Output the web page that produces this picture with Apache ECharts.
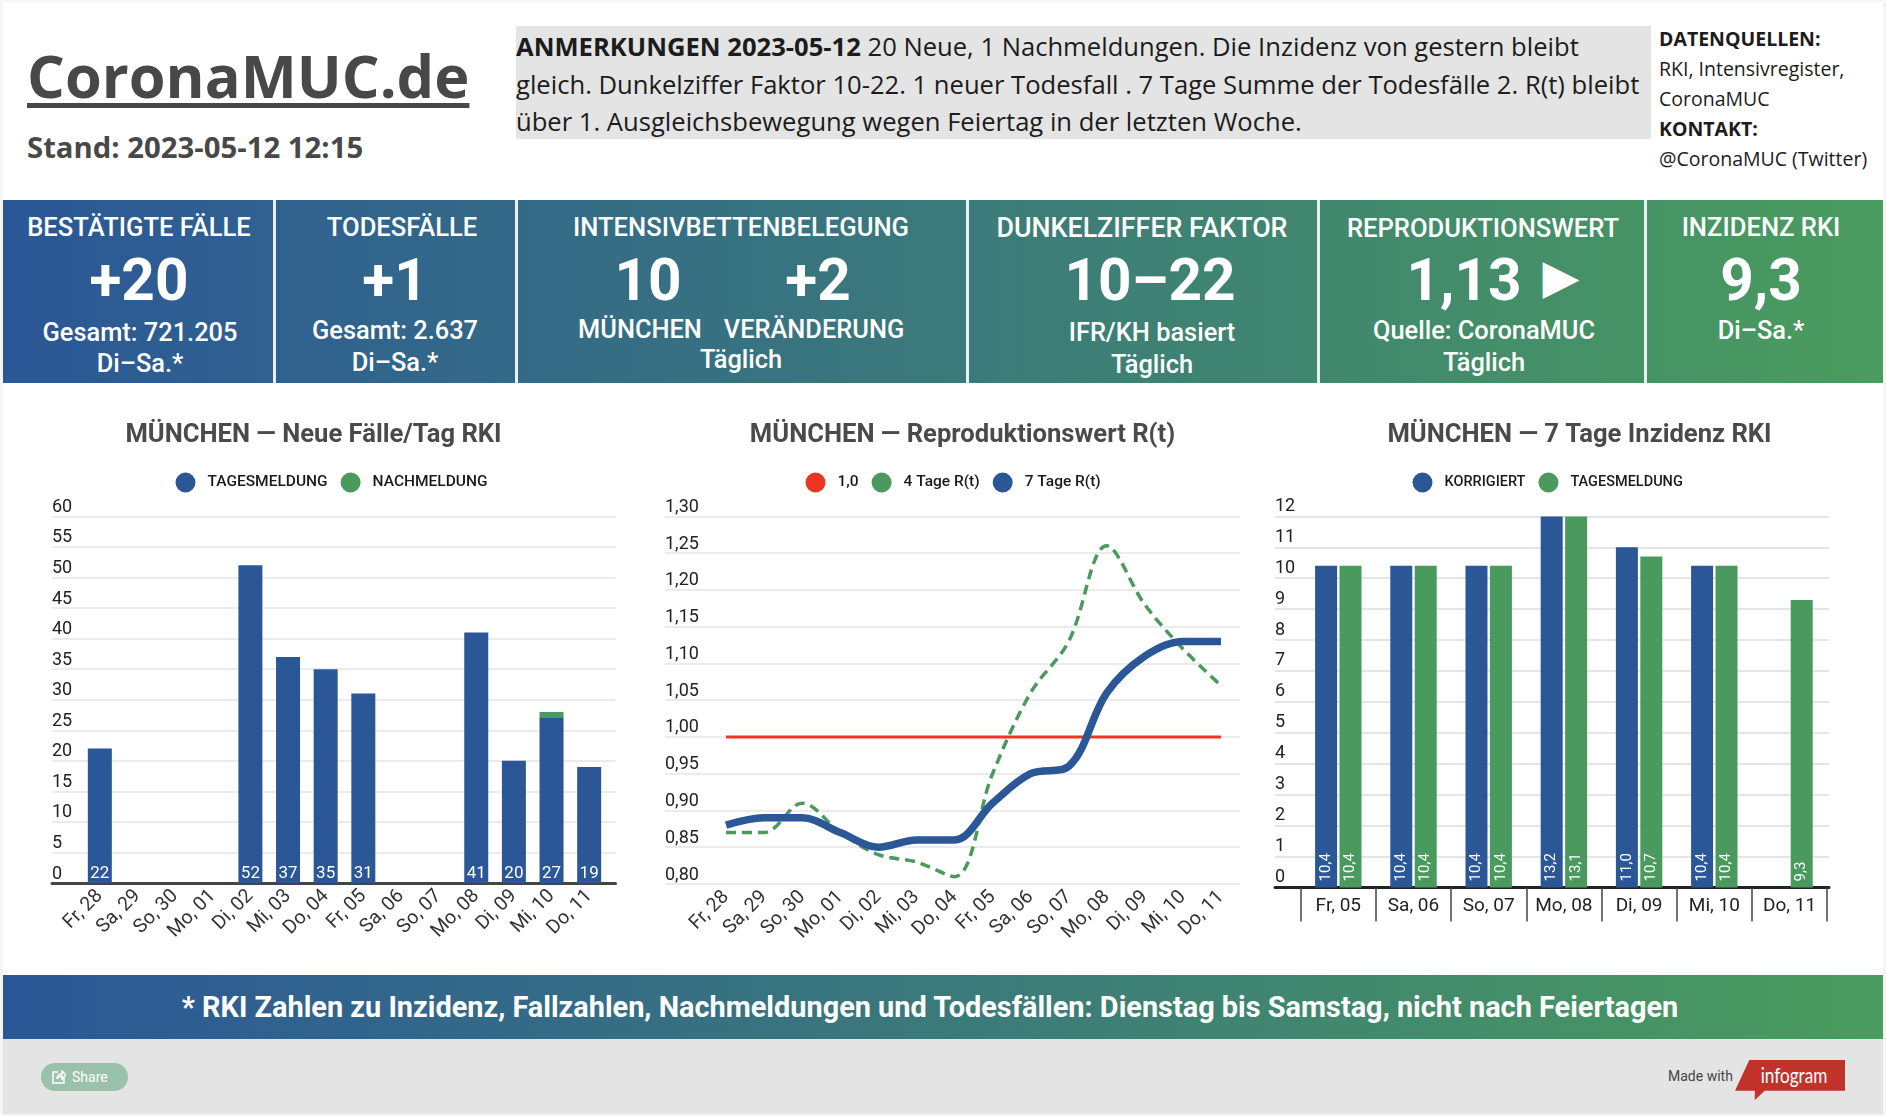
<!DOCTYPE html>
<html>
<head>
<meta charset="utf-8">
<script src="https://cdn.jsdelivr.net/npm/echarts@6/dist/echarts.min.js"></script>
<style>
  html, body { margin: 0; padding: 0; background: #f5f5f5; }
  #page { position: relative; width: 1886px; height: 1116px; overflow: hidden; font-family: Roboto, sans-serif; }
  #sheet { position: absolute; left: 3px; top: 2px; width: 1880px; height: 1112px; background: #fff; }
  .abs { position: absolute; white-space: nowrap; }
  .c { position: absolute; white-space: nowrap; color: #fff; transform: translate(-50%, -50%); }
  .head { font-size: 25.6px; font-weight: 500; }
  .big { font-size: 58.5px; font-weight: 700; }
  .sub { font-size: 25.4px; font-weight: 500; }
  #logo { left: 27px; top: 34px; font: 700 59.5px "Open Sans"; color: #484848; text-decoration: underline; text-decoration-thickness: 5px; text-underline-offset: 5px; }
  #stand { left: 27px; top: 127px; font: 700 29.3px "Open Sans"; color: #484848; }
  #notes { left: 516px; top: 26px; width: 1135px; height: 113px; background: #e4e4e4; font: 25.6px/37.7px "Open Sans"; color: #1c1c1c; padding-top: 2px; box-sizing: border-box; }
  #sources { left: 1659px; top: 24px; font: 19.5px/30px "Open Sans"; color: #1c1c1c; }
  #band { position: absolute; left: 3px; top: 200px; width: 1880px; height: 183px; background: linear-gradient(to right, #2b5797, #4a9c5e); }
  .sep { position: absolute; top: 200px; height: 183px; width: 3px; background: #e9eef0; }
  #banner { position: absolute; left: 3px; top: 975px; width: 1880px; height: 64px; background: linear-gradient(to right, #2b5797, #4a9c5e); }
  #foot { position: absolute; left: 3px; top: 1039px; width: 1880px; height: 75px; background: #e4e4e4; }
  #share { left: 41px; top: 1063px; width: 87px; height: 28px; border-radius: 14px; background: #9ac1a9; color: #fff; font-size: 14px; line-height: 28px; }
  #tag { left: 1735px; top: 1060px; width: 110px; height: 40px; background: #c1322a; clip-path: polygon(13% 0, 100% 0, 100% 77%, 27% 77%, 18% 100%, 18% 77%, 0 77%); }
  .chart { position: absolute; top: 400px; height: 560px; }
</style>
</head>
<body>
<div id="page">
  <div id="sheet"></div>
  <div class="abs" id="logo">CoronaMUC.de</div>
  <div class="abs" id="stand">Stand: 2023-05-12 12:15</div>
  <div class="abs" id="notes"><b>ANMERKUNGEN 2023-05-12</b> 20 Neue, 1 Nachmeldungen. Die Inzidenz von gestern bleibt<br>gleich. Dunkelziffer Faktor 10-22. 1 neuer Todesfall . 7 Tage Summe der Todesfälle 2. R(t) bleibt<br>über 1. Ausgleichsbewegung wegen Feiertag in der letzten Woche.</div>
  <div class="abs" id="sources"><b>DATENQUELLEN:</b><br>RKI, Intensivregister,<br>CoronaMUC<br><b>KONTAKT:</b><br>@CoronaMUC (Twitter)</div>

  <div id="band"></div>
  <div class="sep" style="left:273px"></div>
  <div class="sep" style="left:515px"></div>
  <div class="sep" style="left:966px"></div>
  <div class="sep" style="left:1317px"></div>
  <div class="sep" style="left:1644px"></div>

  <div class="c head" style="left:139px;top:227px">BESTÄTIGTE FÄLLE</div>
  <div class="c big" style="left:139px;top:280px">+20</div>
  <div class="c sub" style="left:140px;top:332px">Gesamt: 721.205</div>
  <div class="c sub" style="left:140px;top:363px">Di–Sa.*</div>

  <div class="c head" style="left:402px;top:227px">TODESFÄLLE</div>
  <div class="c big" style="left:395px;top:280px">+1</div>
  <div class="c sub" style="left:395px;top:330px">Gesamt: 2.637</div>
  <div class="c sub" style="left:395px;top:362px">Di–Sa.*</div>

  <div class="c head" style="left:741px;top:227px">INTENSIVBETTENBELEGUNG</div>
  <div class="c big" style="left:648px;top:280px">10</div>
  <div class="c big" style="left:818px;top:280px">+2</div>
  <div class="c sub" style="left:640px;top:329px">MÜNCHEN</div>
  <div class="c sub" style="left:814px;top:329px">VERÄNDERUNG</div>
  <div class="c sub" style="left:741px;top:359px">Täglich</div>

  <div class="c head" style="left:1142px;top:228px;font-size:26.8px">DUNKELZIFFER FAKTOR</div>
  <div class="c big" style="left:1150px;top:280px">10–22</div>
  <div class="c sub" style="left:1152px;top:332px">IFR/KH basiert</div>
  <div class="c sub" style="left:1152px;top:364px">Täglich</div>

  <div class="c head" style="left:1483px;top:228px">REPRODUKTIONSWERT</div>
  <div class="c big" style="left:1464px;top:280px">1,13</div>
  <div class="c" style="left:1561px;top:276px;font:48px 'DejaVu Sans'">▶</div>
  <div class="c sub" style="left:1484px;top:330px">Quelle: CoronaMUC</div>
  <div class="c sub" style="left:1484px;top:362px">Täglich</div>

  <div class="c head" style="left:1761px;top:227px">INZIDENZ RKI</div>
  <div class="c big" style="left:1761px;top:280px">9,3</div>
  <div class="c sub" style="left:1761px;top:330px">Di–Sa.*</div>

  <div id="c1" class="chart" style="left:0;width:640px"></div>
  <div id="c2" class="chart" style="left:640px;width:620px"></div>
  <div id="c3" class="chart" style="left:1260px;width:626px"></div>

  <div id="banner"></div>
  <div class="c" style="left:930px;top:1007px;font-size:28.9px;font-weight:700">* RKI Zahlen zu Inzidenz, Fallzahlen, Nachmeldungen und Todesfällen: Dienstag bis Samstag, nicht nach Feiertagen</div>
  <div id="foot"></div>
  <div class="abs" id="share"><span style="margin-left:31px">Share</span></div>
  <svg class="abs" style="left:52px;top:1070px" width="14" height="14" viewBox="0 0 14 14"><path d="M6 2H1v11h11V8M5 9c0-3 2-5 5-5V1l4 4-4 4V6c-2 0-4 1-5 3z" fill="none" stroke="#fff" stroke-width="1.5"/></svg>
  <div class="abs" style="left:1668px;top:1067px;font-size:14px;line-height:18px;color:#444">Made with</div>
  <div class="abs" id="tag"></div>
  <div class="c" style="left:1794px;top:1074px;font:22px Lato;transform:translate(-50%,-50%) scaleX(0.78)">infogram</div>
</div>

<script>
// Neue Fälle/Tag
var daysLong = ['Fr, 28', 'Sa, 29', 'So, 30', 'Mo, 01', 'Di, 02', 'Mi, 03', 'Do, 04', 'Fr, 05', 'Sa, 06', 'So, 07', 'Mo, 08', 'Di, 09', 'Mi, 10', 'Do, 11']
var tagesmeldung = [22, null, null, null, 52, 37, 35, 31, null, null, 41, 20, 27, 19]
var nachmeldung = [null, null, null, null, null, null, null, null, null, null, null, null, 1, null]

// Reproduktionswert
var rEins = [1, 1, 1, 1, 1, 1, 1, 1, 1, 1, 1, 1, 1, 1]
var rVierTage = [0.87, 0.87, 0.91, 0.87, 0.84, 0.83, 0.81, 0.95, 1.06, 1.13, 1.26, 1.18, 1.12, 1.07]
var rSiebenTage = [0.88, 0.89, 0.89, 0.87, 0.85, 0.86, 0.86, 0.91, 0.95, 0.96, 1.06, 1.11, 1.13, 1.13]

// 7 Tage Inzidenz
var daysShort = ['Fr, 05', 'Sa, 06', 'So, 07', 'Mo, 08', 'Di, 09', 'Mi, 10', 'Do, 11']
var korrigiert = [10.4, 10.4, 10.4, 13.2, 11.0, 10.4, null]
var inzidenzTag = [10.4, 10.4, 10.4, 13.1, 10.7, 10.4, 9.3]

var BLUE = '#2b5797'
var GREEN = '#4a9a5e'
var RED = '#ee3524'
var comma = function (v, digits) {
  return Number(v).toFixed(digits).replace('.', ',')
}

// grid 0 traegt Gitterlinien und y-Labels (breiter), grid 1 die Balken/Linien
function baseOption(cfg) {
  return {
    textStyle: { fontFamily: 'Roboto' },
    animation: false,
    title: {
      text: cfg.title,
      left: cfg.titleX,
      top: 14.5,
      textAlign: 'center',
      textStyle: { fontFamily: 'Roboto', fontSize: 25.6, fontWeight: 700, color: '#4a4a4a', lineHeight: 32 }
    },
    legend: {
      left: cfg.legendX,
      top: 67.5,
      icon: 'circle',
      itemWidth: 20,
      itemHeight: 20,
      itemGap: 13,
      selectedMode: false,
      textStyle: { fontFamily: 'Roboto', fontSize: cfg.legendSize, fontWeight: 500, color: '#1a1a1a', padding: [0, 0, 0, 7] },
      data: cfg.legend
    },
    grid: [
      { left: cfg.bgLeft, width: cfg.bgWidth, top: 116.4, height: cfg.height },
      { left: cfg.left, width: cfg.width, top: 116.4, height: cfg.height }
    ],
    xAxis: [
      {
        gridIndex: 0, type: 'value', min: 0, max: 1,
        splitLine: { show: false }, axisTick: { show: false }, axisLabel: { show: false },
        axisLine: { show: cfg.axisLine, onZero: false, lineStyle: { color: cfg.axisColor || '#444', width: 3 } }
      },
      Object.assign({
        gridIndex: 1, type: 'category', data: cfg.categories,
        axisLine: { show: false }, axisTick: { show: false },
        axisLabel: { interval: 0, rotate: 45, margin: 10, fontFamily: 'Roboto', fontSize: 19.5, color: '#333' }
      }, cfg.xExtra)
    ],
    yAxis: [
      {
        gridIndex: 0, type: 'value', min: cfg.min, max: cfg.max, interval: cfg.interval,
        axisLine: { show: false }, axisTick: { show: false },
        splitLine: { lineStyle: { color: cfg.gridColor || '#e4e4e4', width: 1.5 } },
        axisLabel: {
          inside: true, margin: 0, verticalAlign: 'bottom', padding: [0, 0, cfg.labelLift || 0, 0], fontFamily: 'Roboto', fontSize: 18, color: '#222',
          formatter: cfg.yFormat
        }
      },
      { gridIndex: 1, type: 'value', min: cfg.min, max: cfg.max, interval: cfg.interval, show: false }
    ],
    series: cfg.series
  }
}

function barLabel() {
  return { show: true, position: 'insideBottom', distance: 1, color: '#fff', fontFamily: 'Roboto', fontSize: 17 }
}

var chart1 = echarts.init(document.getElementById('c1'))
chart1.setOption(baseOption({
  title: 'MÜNCHEN — Neue Fälle/Tag RKI',
  titleX: 308.5,
  legendX: 170.5,
  legendSize: 15.5,
  legend: ['TAGESMELDUNG', 'NACHMELDUNG'],
  bgLeft: 52, bgWidth: 563.5, left: 81, width: 527, height: 366.6,
  axisLine: true,
  categories: daysLong,
  min: 0, max: 60, interval: 5,
  series: [
    {
      name: 'TAGESMELDUNG', type: 'bar', stack: 'f', xAxisIndex: 1, yAxisIndex: 1, barWidth: 24,
      itemStyle: { color: BLUE }, label: barLabel(), data: tagesmeldung
    },
    {
      name: 'NACHMELDUNG', type: 'bar', stack: 'f', xAxisIndex: 1, yAxisIndex: 1, barWidth: 24,
      itemStyle: { color: GREEN }, data: nachmeldung
    }
  ]
}))

var chart2 = echarts.init(document.getElementById('c2'))
chart2.setOption(baseOption({
  title: 'MÜNCHEN — Reproduktionswert R(t)',
  titleX: 317.5,
  legendX: 160.5,
  legendSize: 15.5,
  legend: ['1,0', '4 Tage R(t)', '7 Tage R(t)'],
  bgLeft: 25, bgWidth: 575, left: 67, width: 533, height: 367.6,
  axisLine: false,
  categories: daysLong,
  min: 0.8, max: 1.3, interval: 0.05,
  yFormat: function (v) { return comma(v, 2) },
  series: [
    {
      name: '1,0', type: 'line', xAxisIndex: 1, yAxisIndex: 1, showSymbol: false,
      itemStyle: { color: RED }, lineStyle: { color: RED, width: 3 }, data: rEins
    },
    {
      name: '4 Tage R(t)', type: 'line', smooth: 0.35, xAxisIndex: 1, yAxisIndex: 1, showSymbol: false,
      itemStyle: { color: GREEN }, lineStyle: { color: GREEN, width: 3.5, type: [10, 6] }, data: rVierTage
    },
    {
      name: '7 Tage R(t)', type: 'line', smooth: 0.35, xAxisIndex: 1, yAxisIndex: 1, showSymbol: false,
      itemStyle: { color: BLUE }, lineStyle: { color: BLUE, width: 7.5 }, data: rSiebenTage
    }
  ]
}))

function incLabel() {
  return {
    show: true, position: 'insideBottom', distance: 6, rotate: 90, align: 'left', verticalAlign: 'middle',
    color: '#fff', fontFamily: 'Roboto', fontSize: 15,
    formatter: function (p) { return comma(p.value, 1) }
  }
}

var chart3 = echarts.init(document.getElementById('c3'))
chart3.setOption(baseOption({
  title: 'MÜNCHEN — 7 Tage Inzidenz RKI',
  titleX: 314.5,
  legendX: 147.5,
  legendSize: 14.5,
  legend: ['KORRIGIERT', 'TAGESMELDUNG'],
  bgLeft: 15, bgWidth: 554, left: 40.7, width: 526.4, height: 371,
  labelLift: 1,
  axisLine: true,
  axisColor: '#222',
  gridColor: '#dcdcdc',
  categories: daysShort,
  xExtra: {
    axisTick: { show: true, length: 34, lineStyle: { color: '#444', width: 1.5 } },
    axisLabel: { interval: 0, margin: 9, fontFamily: 'Roboto', fontSize: 19, color: '#222' }
  },
  min: 0, max: 12, interval: 1,
  series: [
    {
      name: 'KORRIGIERT', type: 'bar', xAxisIndex: 1, yAxisIndex: 1, barWidth: 22, barGap: '11%',
      itemStyle: { color: BLUE }, label: incLabel(), data: korrigiert
    },
    {
      name: 'TAGESMELDUNG', type: 'bar', xAxisIndex: 1, yAxisIndex: 1, barWidth: 22, barGap: '11%',
      itemStyle: { color: GREEN }, label: incLabel(), data: inzidenzTag
    }
  ]
}))
</script>
</body>
</html>
